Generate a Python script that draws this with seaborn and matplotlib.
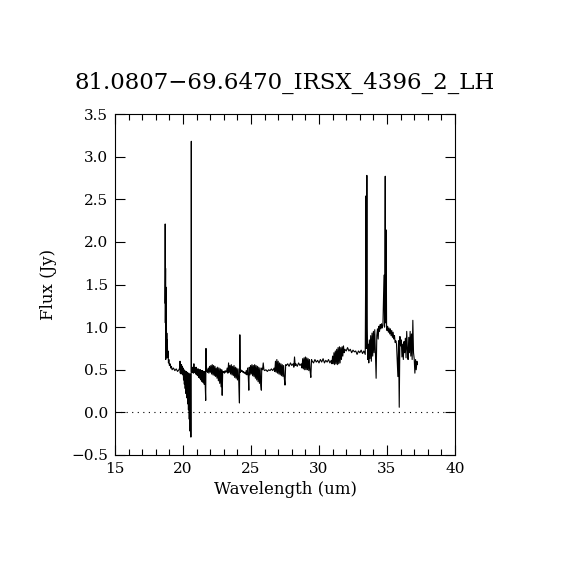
import matplotlib
matplotlib.use("Agg")
import matplotlib.pyplot as plt
from matplotlib.ticker import MultipleLocator, FuncFormatter
import seaborn as sns
import pandas as pd

title = "81.0807\u221269.6470_IRSX_4396_2_LH"
x_label = "Wavelength (um)"
y_label = "Flux (Jy)"

wavelength = [
    18.68, 18.69, 18.70, 18.72, 18.73, 18.74, 18.76, 18.78, 18.79, 18.81, 18.83, 18.85, 18.87,
    18.90, 18.93, 18.96, 19.00, 19.05, 19.10, 19.15, 19.2, 19.3, 19.4, 19.5, 19.6, 19.7,
    19.75, 19.78, 19.80, 19.83, 19.86, 19.89, 19.92, 19.95, 19.98, 20.01, 20.04, 20.07, 20.10,
    20.13, 20.16, 20.19, 20.22, 20.25, 20.28, 20.31, 20.34, 20.37, 20.40, 20.43, 20.46, 20.49,
    20.52, 20.55, 20.58, 20.60, 20.61, 20.62, 20.65,
    20.68, 20.72, 20.76, 20.80, 20.84, 20.88, 20.92, 20.96, 21.00, 21.04, 21.08, 21.12, 21.16,
    21.20, 21.24, 21.28, 21.32, 21.36, 21.40, 21.44, 21.48, 21.52, 21.56, 21.60, 21.64, 21.67,
    21.69, 21.71,
    21.75, 21.80, 21.85, 21.90, 21.95, 22.00, 22.05, 22.10, 22.15, 22.20, 22.25, 22.30, 22.35,
    22.40, 22.45, 22.50, 22.55, 22.60, 22.65, 22.70, 22.75, 22.80, 22.85, 22.88, 22.92,
    22.96, 23.00, 23.05, 23.10, 23.15, 23.20, 23.25, 23.30, 23.35, 23.40, 23.45, 23.50, 23.55,
    23.60, 23.65, 23.70, 23.75, 23.80, 23.85, 23.90, 23.95, 24.00, 24.05, 24.10, 24.15, 24.18,
    24.21,
    24.25, 24.30, 24.35, 24.40, 24.45, 24.50, 24.55, 24.60, 24.65, 24.70, 24.75, 24.80, 24.84,
    24.87, 24.92, 24.97, 25.02, 25.07, 25.12, 25.17, 25.22, 25.27, 25.32, 25.37, 25.42, 25.47,
    25.52, 25.57, 25.62, 25.67, 25.72, 25.76, 25.79,
    25.85, 25.90, 25.95, 26.00, 26.10, 26.20, 26.30, 26.40, 26.50, 26.60, 26.70, 26.75, 26.80,
    26.85, 26.90, 26.95, 27.00, 27.05, 27.10, 27.15, 27.20, 27.25, 27.30, 27.35, 27.40, 27.45,
    27.50, 27.55,
    27.60, 27.70, 27.80, 27.90, 28.00, 28.10, 28.15, 28.20, 28.25, 28.30, 28.40, 28.50, 28.60,
    28.70, 28.75, 28.80, 28.85, 28.90, 28.95, 29.00, 29.05, 29.10, 29.15, 29.20, 29.25, 29.30,
    29.35, 29.40, 29.45,
    29.50, 29.60, 29.70, 29.80, 29.90, 30.00, 30.10, 30.20, 30.30, 30.40, 30.50, 30.60, 30.70,
    30.80, 30.90,
    30.95, 31.00, 31.05, 31.10, 31.15, 31.20, 31.25, 31.30, 31.35, 31.40, 31.45, 31.50, 31.55,
    31.60, 31.65, 31.70, 31.75, 31.80, 31.85,
    31.90, 32.00, 32.10, 32.20, 32.30, 32.40, 32.50, 32.60, 32.70, 32.80, 32.90, 33.00, 33.10,
    33.20, 33.30, 33.40,
    33.46, 33.48, 33.52, 33.55, 33.58, 33.62, 33.66, 33.70, 33.75, 33.80, 33.85, 33.90, 33.95,
    34.00, 34.05, 34.10, 34.15, 34.20, 34.25, 34.30, 34.35, 34.40, 34.45, 34.50, 34.55, 34.60,
    34.65, 34.70, 34.78, 34.82, 34.87, 34.90, 34.94, 34.97,
    35.00, 35.05, 35.10, 35.15, 35.20, 35.25, 35.30, 35.35, 35.40, 35.45, 35.50, 35.55, 35.60,
    35.65, 35.70, 35.75, 35.80, 35.85, 35.90, 35.95, 36.00, 36.05, 36.10, 36.15, 36.20, 36.25,
    36.30, 36.35, 36.40, 36.45, 36.50, 36.55, 36.60, 36.65, 36.70, 36.75, 36.80, 36.85, 36.90,
    36.95, 37.00, 37.05, 37.10, 37.15, 37.20, 37.23,
]

flux = [
    1.28, 2.21, 1.05, 1.69, 0.62, 1.47, 0.66, 1.20, 0.64, 0.93, 0.70, 0.85, 0.64,
    0.72, 0.58, 0.62, 0.55, 0.57, 0.52, 0.54, 0.50, 0.52, 0.49, 0.51, 0.48, 0.50,
    0.52, 0.60, 0.46, 0.55, 0.45, 0.56, 0.46, 0.54, 0.44, 0.52, 0.38, 0.50, 0.33,
    0.49, 0.28, 0.48, 0.22, 0.48, 0.17, 0.47, 0.10, 0.46, 0.03, 0.46, -0.08, 0.44,
    -0.22, 0.45, -0.29, 0.40, 3.18, 0.48, 0.50,
    0.47, 0.53, 0.46, 0.57, 0.47, 0.52, 0.45, 0.53, 0.44, 0.51, 0.43, 0.51, 0.41,
    0.50, 0.40, 0.50, 0.38, 0.49, 0.36, 0.49, 0.35, 0.48, 0.33, 0.48, 0.30, 0.14,
    0.75, 0.48,
    0.50, 0.47, 0.52, 0.46, 0.54, 0.47, 0.55, 0.45, 0.56, 0.44, 0.55, 0.43, 0.54,
    0.42, 0.52, 0.40, 0.53, 0.37, 0.52, 0.34, 0.51, 0.30, 0.50, 0.20, 0.48,
    0.47, 0.48, 0.46, 0.49, 0.47, 0.48, 0.52, 0.46, 0.58, 0.47, 0.55, 0.45, 0.56,
    0.44, 0.54, 0.43, 0.55, 0.41, 0.53, 0.40, 0.52, 0.38, 0.51, 0.36, 0.11, 0.91,
    0.47,
    0.50, 0.48, 0.49, 0.47, 0.48, 0.46, 0.47, 0.45, 0.49, 0.44, 0.52, 0.42, 0.26,
    0.53, 0.44, 0.55, 0.45, 0.56, 0.43, 0.55, 0.42, 0.56, 0.40, 0.55, 0.38, 0.54,
    0.36, 0.53, 0.34, 0.52, 0.32, 0.26, 0.52,
    0.50, 0.58, 0.50, 0.49, 0.50, 0.48, 0.50, 0.49, 0.51, 0.49, 0.52, 0.48, 0.60,
    0.47, 0.62, 0.46, 0.60, 0.45, 0.58, 0.44, 0.57, 0.43, 0.56, 0.42, 0.55, 0.40,
    0.32, 0.56,
    0.55, 0.57, 0.54, 0.58, 0.55, 0.57, 0.53, 0.65, 0.55, 0.57, 0.54, 0.58, 0.55,
    0.57, 0.52, 0.63, 0.51, 0.64, 0.50, 0.65, 0.50, 0.64, 0.50, 0.63, 0.49, 0.62,
    0.48, 0.41, 0.62,
    0.60, 0.58, 0.62, 0.59, 0.61, 0.58, 0.62, 0.59, 0.63, 0.58, 0.61, 0.59, 0.62,
    0.58, 0.61,
    0.57, 0.66, 0.57, 0.70, 0.56, 0.72, 0.57, 0.74, 0.56, 0.76, 0.57, 0.77, 0.58,
    0.76, 0.62, 0.77, 0.66, 0.78, 0.70,
    0.74, 0.72, 0.76, 0.72, 0.74, 0.70, 0.73, 0.71, 0.72, 0.68, 0.72, 0.70, 0.73,
    0.69, 0.72, 0.68,
    2.54, 0.75, 2.78, 0.99, 0.62, 0.80, 0.58, 0.85, 0.63, 0.90, 0.60, 0.93, 0.66,
    0.95, 0.70, 0.97, 0.68, 0.40, 0.90, 0.98, 0.86, 1.01, 0.95, 1.03, 0.98, 1.04,
    0.99, 1.02, 1.61, 1.00, 2.77, 1.05, 2.14, 1.00,
    0.96, 1.01, 0.94, 0.99, 0.92, 0.98, 0.90, 0.96, 0.88, 0.94, 0.86, 0.90, 0.82,
    0.84, 0.80, 0.62, 0.42, 0.84, 0.06, 0.89, 0.78, 0.85, 0.65, 0.80, 0.62, 0.83,
    0.70, 0.87, 0.64, 0.95, 0.74, 0.62, 0.88, 0.70, 0.95, 0.66, 0.92, 0.62, 1.08,
    0.70, 0.63, 0.46, 0.62, 0.50, 0.60, 0.56,
]

x_ticks = [15, 20, 25, 30, 35, 40]
y_ticks = [-0.5, 0.0, 0.5, 1.0, 1.5, 2.0, 2.5, 3.0, 3.5]

df = pd.DataFrame({"wavelength": wavelength, "flux": flux})

sns.set_style("ticks")
plt.rcParams["font.family"] = ["DejaVu Serif", "DejaVu Sans"]
plt.rcParams["axes.unicode_minus"] = True
plt.rcParams["text.color"] = "black"
plt.rcParams["axes.labelcolor"] = "black"
plt.rcParams["xtick.color"] = "black"
plt.rcParams["ytick.color"] = "black"

fig = plt.figure(figsize=(5.7, 5.7), dpi=100)
ax = fig.add_axes([115 / 570, 115 / 570, 340 / 570, 341 / 570])

sns.lineplot(data=df, x="wavelength", y="flux", sort=False, estimator=None,
             color="black", linewidth=0.8, ax=ax)
ax.axhline(0.0, color="black", linewidth=0.8, linestyle=(0, (1, 4)))

ax.set_xlim(15, 40)
ax.set_ylim(-0.5, 3.5)
ax.set_xticks(x_ticks)
ax.set_yticks(y_ticks)
ax.xaxis.set_minor_locator(MultipleLocator(1))
ax.xaxis.set_major_formatter(FuncFormatter(lambda v, p: f"{v:.0f}"))
ax.yaxis.set_major_formatter(FuncFormatter(lambda v, p: f"{v:.1f}".replace("-", "\u2212")))
ax.tick_params(which="both", direction="in", top=True, right=True, colors="black",
               labelsize=11, width=0.8)
ax.tick_params(which="major", length=7, pad=5)
ax.tick_params(which="minor", length=4)
for s in ax.spines.values():
    s.set_linewidth(0.8)
    s.set_color("black")

ax.set_xlabel(x_label, fontsize=12, labelpad=4, color="black")
ax.set_ylabel(y_label, fontsize=12, labelpad=10, color="black")
ax.set_title(title, fontsize=16.5, pad=18, color="black")

fig.savefig("out.png", dpi=100, facecolor="white")
